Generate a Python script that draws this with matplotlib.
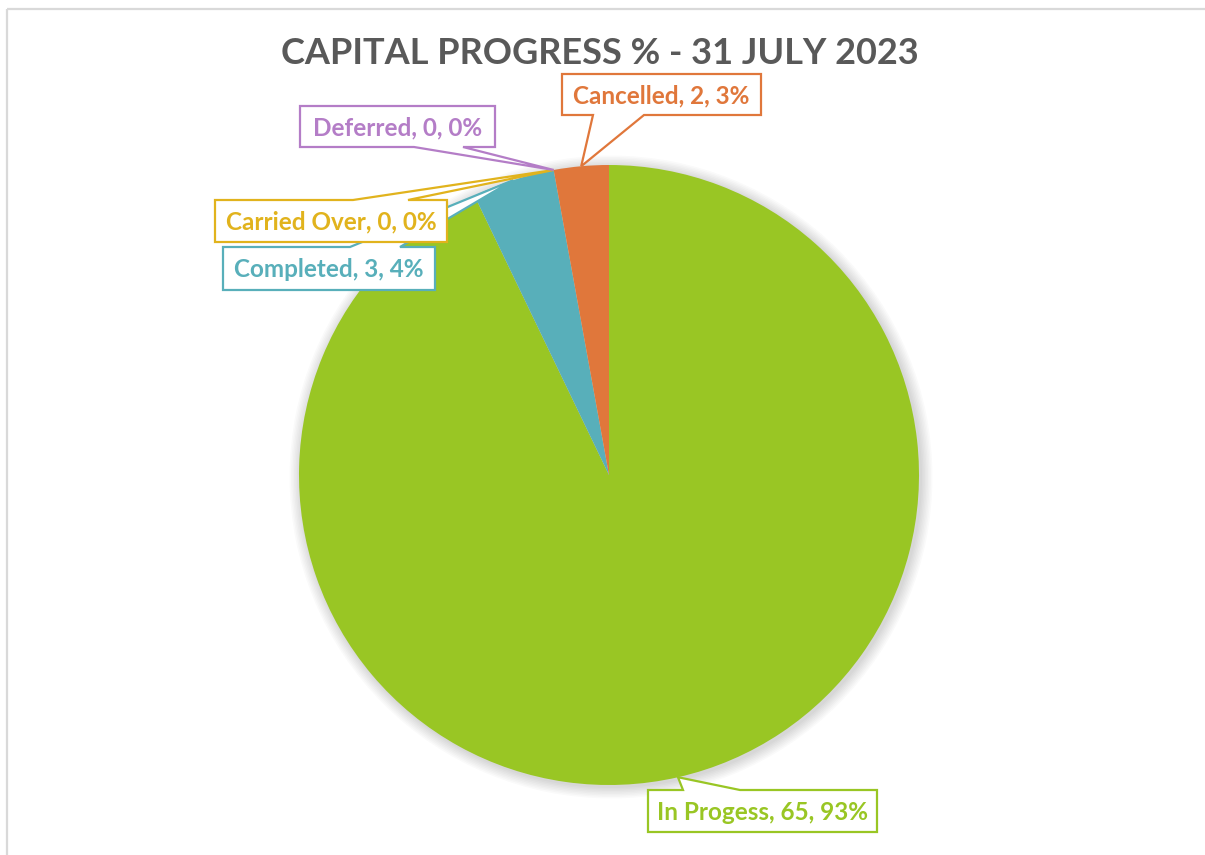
import matplotlib.pyplot as plt
from matplotlib.patches import Polygon, Rectangle, Circle
import numpy as np

# capital programme status counts
categories = ["In Progess", "Completed", "Carried Over", "Deferred", "Cancelled"]
counts = [65, 3, 0, 0, 2]
colors = ["#99C624", "#58AFBA", "#E1B31D", "#B47DC7", "#E0773B"]
title = "CAPITAL PROGRESS % - 31 JULY 2023"

# callout boxes in pixel space: (x0, y0, x1, y1), pointer side, pointer base x-range
boxes = {
    "In Progess": ((648, 790, 877, 832), "top", (683, 740)),
    "Completed": ((223, 247, 435, 290), "top", (350, 400)),
    "Carried Over": ((215, 200, 447, 242), "top", (353, 408)),
    "Deferred": ((300, 106, 495, 147), "bottom", (414, 463)),
    "Cancelled": ((562, 74, 761, 115), "bottom", (593, 644)),
}

W, H = 1205, 855
cx, cy, R = 609, 475, 310

fig = plt.figure(figsize=(W / 100, H / 100), dpi=100)
ax = fig.add_axes([0, 0, 1, 1])

# soft shadow behind the pie
for k in range(8):
    ax.add_patch(Circle((cx + 2, cy + 2), R + 1 + k * 1.5, color="#000000",
                        alpha=0.02, lw=0, zorder=0))

wedges, _ = ax.pie(counts, colors=colors, startangle=-90, counterclock=True,
                   center=(cx, cy), radius=R,
                   wedgeprops=dict(linewidth=0), normalize=True)
for w in wedges:
    w.set_zorder(1)

ax.set_xlim(0, W)
ax.set_ylim(H, 0)
ax.set_aspect("equal")
ax.axis("off")

# chart area border
ax.add_patch(Rectangle((6.5, 9.5), W + 20, H + 20, fill=False,
                       edgecolor="#D9D9D9", lw=1.6, zorder=0))

ax.text(600, 53, title, ha="center", va="center", fontsize=26,
        fontweight="bold", color="#595959", family="Lato")

total = sum(counts)
for i, (name, val, col) in enumerate(zip(categories, counts, colors)):
    w = wedges[i]
    mid = np.deg2rad((w.theta1 + w.theta2) / 2)
    tip = (cx + R * np.cos(mid), cy + R * np.sin(mid))
    (x0, y0, x1, y1), side, (bx0, bx1) = boxes[name]
    if side == "top":
        pts = [(x0, y0), (bx0, y0), tip, (bx1, y0), (x1, y0), (x1, y1), (x0, y1)]
    else:
        pts = [(x0, y0), (x1, y0), (x1, y1), (bx1, y1), tip, (bx0, y1), (x0, y1)]
    ax.add_patch(Polygon(pts, closed=True, facecolor="white", edgecolor=col,
                         lw=1.6, joinstyle="miter", zorder=3 + i))
    pct = round(100 * val / total)
    ax.text((x0 + x1) / 2, (y0 + y1) / 2 + 1, f"{name}, {val}, {pct}%",
            ha="center", va="center", fontsize=17.5, fontweight="bold",
            color=col, family="Lato", zorder=3 + i)

fig.savefig("out.png", dpi=100, facecolor="white")
